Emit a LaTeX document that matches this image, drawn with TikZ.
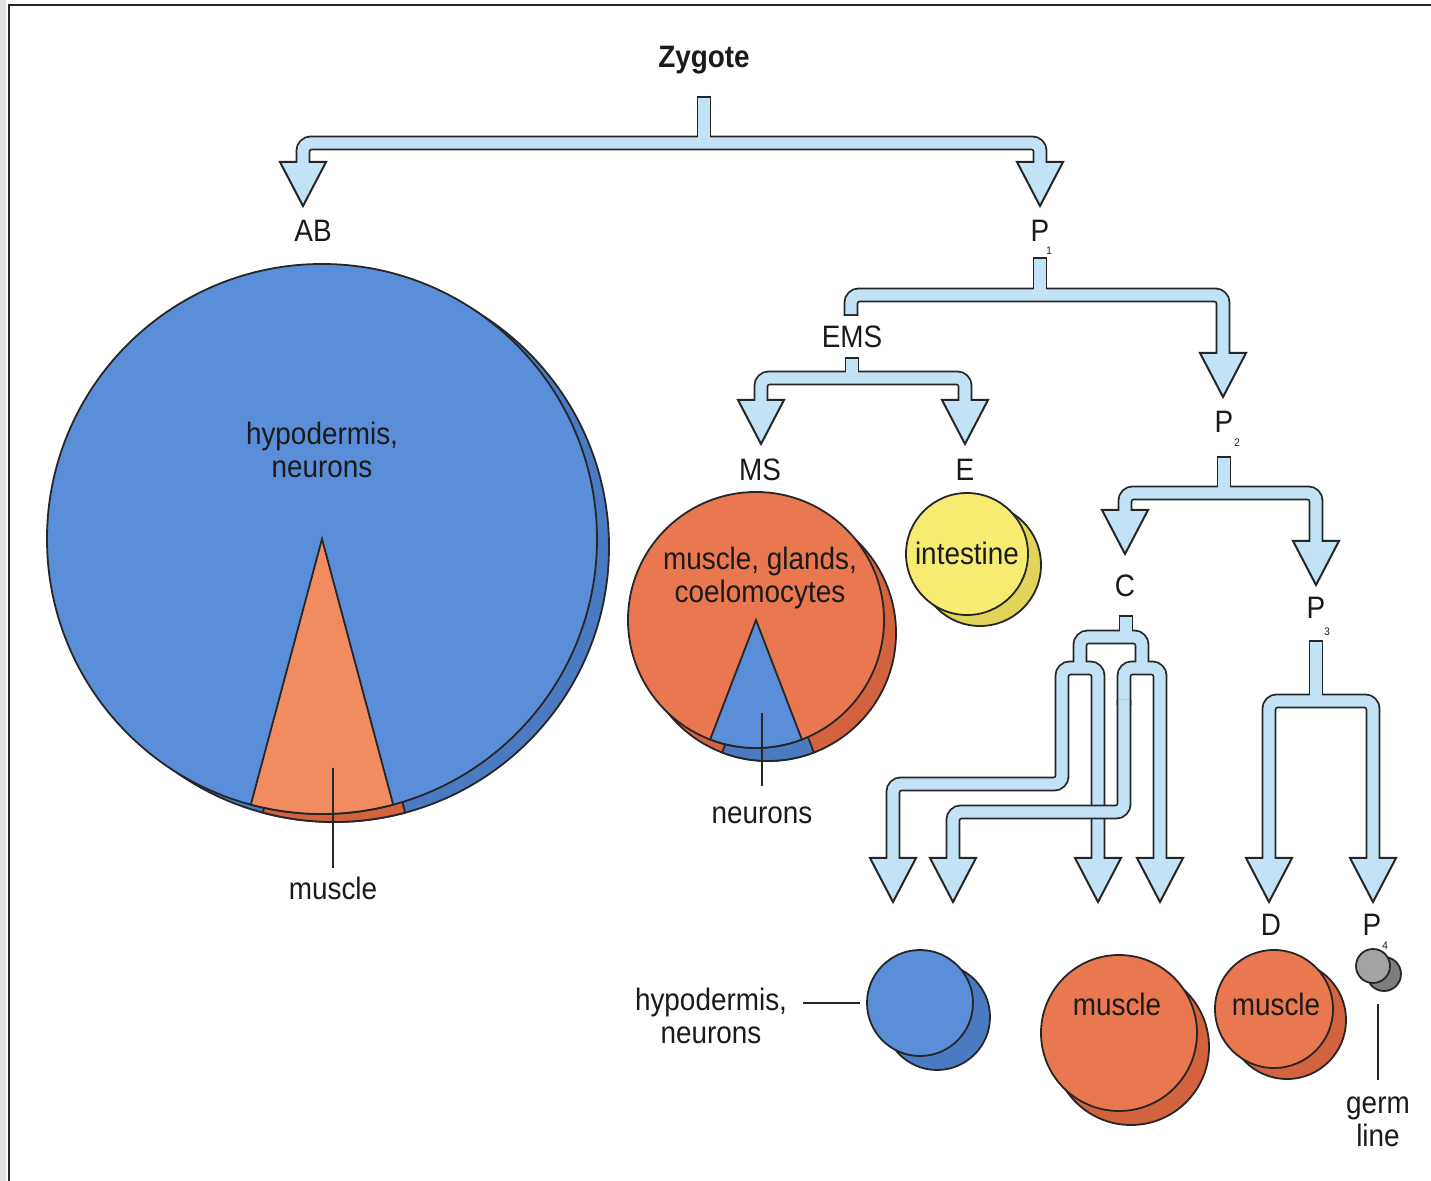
\documentclass[tikz,border=0pt]{standalone}
\usepackage{fontspec}
\setmainfont[FakeStretch=0.9]{Liberation Sans}
\definecolor{ol}{HTML}{262626}
\definecolor{txt}{HTML}{1A1A1A}
\definecolor{pipe}{HTML}{C2E2F5}
\definecolor{bluem}{HTML}{5A8ED8}
\definecolor{blues}{HTML}{4A7BC2}
\definecolor{orm}{HTML}{E9774F}
\definecolor{ors}{HTML}{D3633E}
\definecolor{orw}{HTML}{F08C60}
\definecolor{yelm}{HTML}{F6EC72}
\definecolor{yels}{HTML}{E2D35A}
\definecolor{grym}{HTML}{A3A3A3}
\definecolor{grys}{HTML}{7E7E7E}
\tikzset{
  pipeo/.style={line width=7.4pt, draw=ol, line cap=butt, rounded corners=4pt},
  pipei/.style={line width=5.6pt, draw=pipe, line cap=butt, rounded corners=4pt},
  lbl/.style={font=\fontsize{15.5}{16.5}\selectfont, inner sep=0pt, align=center, text=txt},
  sublbl/.style={font=\fontsize{5.5}{6}\selectfont, inner sep=0pt, text=txt},
  lead/.style={draw=ol, line width=0.6pt},
  cellline/.style={draw=ol, line width=0.9pt}
}
% arrowhead: x, top y
\newcommand\arrhead[2]{\filldraw[fill=pipe,draw=ol,line width=1pt,line join=miter] (#1-23,#2) -- (#1+23,#2) -- (#1,#2+44) -- cycle;}
% plain cell: cx, cy, r(pt), dx, dy, main colour, shadow colour
\newcommand\plaincell[7]{%
  \filldraw[fill=#7,cellline] (#1+#4,#2+#5) circle[radius=#3pt];
  \filldraw[fill=#6,cellline] (#1,#2) circle[radius=#3pt];}
% wedge cell: as plaincell + wedge main colour, wedge shadow colour; half-angle in \wang
\newcommand\wedgecell[9]{%
  \filldraw[fill=#7,cellline] (#1+#4,#2+#5) circle[radius=#3pt];
  \filldraw[fill=#9,cellline] (#1+#4,#2+#5) -- ++(-90-\wang:#3pt) arc[start angle=-90-\wang,end angle=-90+\wang,radius=#3pt] -- cycle;
  \filldraw[fill=#6,cellline] (#1,#2) circle[radius=#3pt];
  \filldraw[fill=#8,cellline] (#1,#2) -- ++(-90-\wang:#3pt) arc[start angle=-90-\wang,end angle=-90+\wang,radius=#3pt] -- cycle;}
\begin{document}
\begin{tikzpicture}[x=0.5pt,y=-0.5pt]
\useasboundingbox (0,0) rectangle (1431,1181);
\fill[white] (0,0) rectangle (1431,1181);
\fill[black!12] (0,0) rectangle (6,1181);
\draw[ol,line width=1pt] (9,1181) -- (9,5) -- (1431,5);

% ---------- cells ----------
\def\wang{15}
\wedgecell{322}{539}{137.5}{12}{8}{bluem}{blues}{orw}{ors}
\def\wang{21}
\wedgecell{756}{620}{64}{12}{13}{orm}{ors}{bluem}{blues}
\plaincell{967}{554}{30.5}{13}{11}{yelm}{yels}
\plaincell{920}{1003}{26.5}{17}{14}{bluem}{blues}
\plaincell{1119}{1033}{39}{12}{14}{orm}{ors}
\plaincell{1274}{1009}{29.5}{13}{11}{orm}{ors}
\plaincell{1373}{966}{8.5}{11}{8}{grym}{grys}

% ---------- labels ----------
\node[lbl,font=\fontsize{15.5}{16.5}\selectfont\bfseries] (zyg) at (704,60) {Zygote};
\node[lbl] (ab) at (313,231) {AB};
\node[lbl] (p1) at (1040,231) {P};
\node[sublbl] (p1s) at (1049,251) {1};
\node[lbl] (ems) at (852,337) {EMS};
\node[lbl] (ms) at (760,470) {MS};
\node[lbl] (e) at (965,470) {E};
\node[lbl] (p2) at (1224,422) {P};
\node[sublbl] (p2s) at (1237,443) {2};
\node[lbl] (c) at (1125,586) {C};
\node[lbl] (p3) at (1316,608) {P};
\node[sublbl] (p3s) at (1327,632) {3};
\node[lbl] (d) at (1271,925) {D};
\node[lbl] (p4) at (1372,925) {P};
\node[sublbl] (p4s) at (1385,946) {4};

\node[lbl] (abfate) at (322,450) {hypodermis,\\neurons};
\node[lbl] (abmus) at (333,888) {muscle};
\node[lbl] (msfate) at (760,578) {muscle, glands,\\coelomocytes};
\node[lbl] (msneu) at (762,815) {neurons};
\node[lbl] (efate) at (967,553) {intestine};
\node[lbl] (cfate) at (711,1016) {hypodermis,\\neurons};
\node[lbl] (cmus) at (1117,1004) {muscle};
\node[lbl] (dmus) at (1276,1004) {muscle};
\node[lbl] (germ) at (1378,1122) {germ\\line};

\coordinate (abwedge) at (333,768);
\coordinate (mswedge) at (762,713);
\coordinate (ccell) at (860,1003);
\coordinate (p4cell) at (1378,1004);
\draw[lead] (abwedge) -- (333,868);
\draw[lead] (mswedge) -- (762,786);
\draw[lead] (803,1003) -- (ccell);
\draw[lead] (p4cell) -- (1378,1080);

% ---------- pipes: Zygote ----------
\draw[pipeo] (704,96) -- (704,143);
\draw[pipeo] (303,164) -- (303,143) -- (1040,143) -- (1040,164);
\arrhead{303}{162}\arrhead{1040}{162}
\draw[pipei] (704,97.8) -- (704,143);
\draw[pipei] (303,166) -- (303,143) -- (1040,143) -- (1040,166);

% ---------- P1 ----------
\draw[pipeo] (1040,257) -- (1040,295);
\draw[pipeo] (851,316) -- (851,295) -- (1223,295) -- (1223,355);
\arrhead{1223}{353}
\draw[pipei] (1040,258.8) -- (1040,295);
\draw[pipei] (851,314.2) -- (851,295) -- (1223,295) -- (1223,357);

% ---------- EMS ----------
\draw[pipeo] (852,357) -- (852,378);
\draw[pipeo] (761,402) -- (761,378) -- (965,378) -- (965,402);
\arrhead{761}{400}\arrhead{965}{400}
\draw[pipei] (852,358.8) -- (852,378);
\draw[pipei] (761,404) -- (761,378) -- (965,378) -- (965,404);

% ---------- P2 ----------
\draw[pipeo] (1224,456) -- (1224,493);
\draw[pipeo] (1125,512) -- (1125,493) -- (1316,493) -- (1316,543);
\arrhead{1125}{510}\arrhead{1316}{541}
\draw[pipei] (1224,457.8) -- (1224,493);
\draw[pipei] (1125,514) -- (1125,493) -- (1316,493) -- (1316,545);

% ---------- C ----------
\draw[pipeo] (1126,615) -- (1126,637);
\draw[pipeo] (1080,668) -- (1080,637) -- (1142,637) -- (1142,668);
\draw[pipeo] (893,860) -- (893,784) -- (1062,784) -- (1062,668) -- (1098,668) -- (1098,860);
\draw[pipeo] (1124,705) -- (1124,668) -- (1160,668) -- (1160,860);
\arrhead{893}{858}\arrhead{1098}{858}\arrhead{1160}{858}
\draw[pipei] (1126,616.8) -- (1126,637);
\draw[pipei] (1080,668) -- (1080,637) -- (1142,637) -- (1142,668);
\draw[pipei] (893,862) -- (893,784) -- (1062,784) -- (1062,668) -- (1098,668) -- (1098,862);
\draw[pipei] (1124,705) -- (1124,668) -- (1160,668) -- (1160,862);
\draw[pipeo] (1124,700) -- (1124,812) -- (953,812) -- (953,860);
\arrhead{953}{858}
\draw[pipei] (1124,700) -- (1124,812) -- (953,812) -- (953,862);

% ---------- P3 ----------
\draw[pipeo] (1316,640) -- (1316,701);
\draw[pipeo] (1269,860) -- (1269,701) -- (1373,701) -- (1373,860);
\arrhead{1269}{858}\arrhead{1373}{858}
\draw[pipei] (1316,641.8) -- (1316,701);
\draw[pipei] (1269,862) -- (1269,701) -- (1373,701) -- (1373,862);
\end{tikzpicture}
\end{document}
